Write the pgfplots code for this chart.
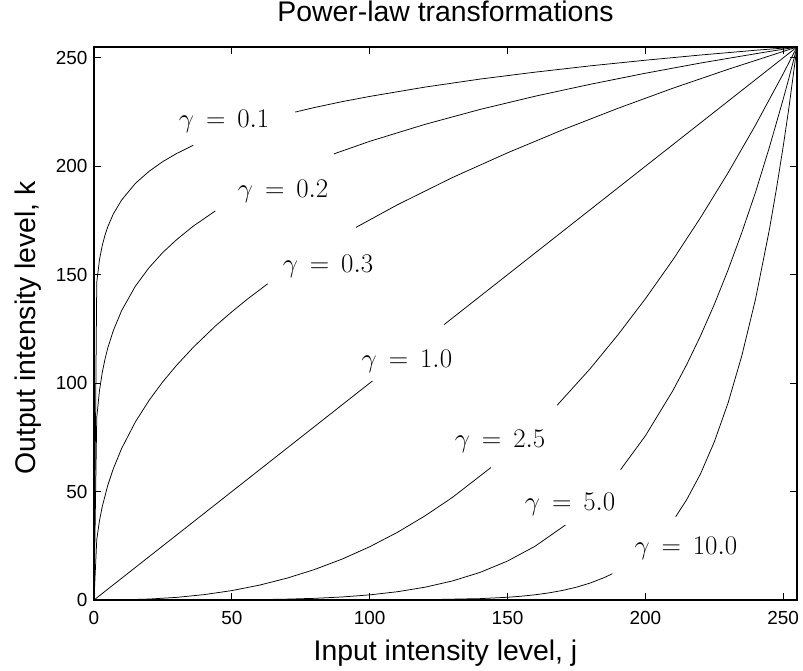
\RequirePackage{fix-cm}
\documentclass[border=0pt]{standalone}
\usepackage[no-math]{fontspec}
\setmainfont{Liberation Sans}
\usepackage{pgfplots}
\pgfplotsset{compat=1.18}
\begin{document}
\begin{tikzpicture}
\path[use as bounding box] (-94bp,-71bp) rectangle (709bp,600bp);
\begin{axis}[
  scale only axis, width=703bp, height=553bp,
  xmin=0, xmax=255, ymin=0, ymax=255,
  xtick={0,50,...,250}, ytick={0,50,...,250},
  /pgf/number format/assume math mode=true,
  tick align=inside, major tick length=7bp,
  major tick style={black, line width=0.9bp},
  axis line style={black, line width=1.4bp},
  ticklabel style={font=\fontsize{19}{22}\selectfont},
  xticklabel style={yshift=-8bp},
  yticklabel style={xshift=-3bp},
  title={Power-law transformations},
  xlabel={Input intensity level, j},
  ylabel={Output intensity level, k},
  title style={font=\fontsize{28.5}{32}\selectfont, at={(axis description cs:0.5,1.0344)}, anchor=base},
  xlabel style={font=\fontsize{28.5}{32}\selectfont, at={(axis description cs:0.5,-0.1085)}, anchor=base},
  ylabel style={font=\fontsize{28.5}{32}\selectfont, at={(axis description cs:-0.0839,0.4919)}, anchor=base, rotate=0},
  curve/.style={black, solid, line width=0.75bp, mark=none},
]
% gamma = 0.1
\addplot[curve] coordinates {(0,0) (1,146.5) (2,157.0) (3,163.5) (4,168.3) (5,172.1) (7,178.0) (10,184.4) (15,192.1) (20,197.7) (25,202.2) (30,205.9) (36,209.7)};
\addplot[curve] coordinates {(73,225.0) (80,227.1) (90,229.8) (100,232.2) (120,236.5) (140,240.2) (160,243.4) (180,246.3) (200,248.9) (220,251.3) (240,253.5) (255,255)};
% gamma = 0.2
\addplot[curve] coordinates {(0,0) (1,84.2) (2,96.7) (3,104.9) (4,111.1) (5,116.2) (7,124.2) (10,133.4) (15,144.7) (20,153.3) (25,160.3) (30,166.2) (36,172.4) (44,179.4)};
\addplot[curve] coordinates {(87,205.7) (100,211.5) (120,219.3) (140,226.2) (160,232.3) (180,237.8) (200,242.9) (220,247.6) (240,251.9) (255,255)};
% gamma = 0.4 (labelled 0.3)
\addplot[curve] coordinates {(0,0) (1,27.8) (2,36.7) (3,43.1) (5,52.9) (7,60.5) (10,69.8) (15,82.1) (20,92.1) (25,100.7) (30,108.3) (36,116.5) (44,126.3) (50,132.9) (56,139.1) (63,145.8)};
\addplot[curve] coordinates {(95,171.8) (110,182.2) (130,194.8) (150,206.2) (170,216.8) (190,226.7) (210,236.0) (230,244.7) (255,255)};
% gamma = 1.0
\addplot[curve] coordinates {(0,0) (101,101)};
\addplot[curve] coordinates {(127,127) (255,255)};
% gamma = 2.5
\addplot[curve] coordinates {(0,0) (10,0.08) (20,0.44) (30,1.21) (40,2.49) (50,4.34) (60,6.85) (70,10.07) (80,14.06) (90,18.87) (100,24.55) (110,31.16) (120,38.74) (130,47.30) (144,61.10)};
\addplot[curve] coordinates {(168,89.8) (180,106.7) (190,122.2) (200,138.9) (210,156.9) (220,176.3) (230,197.0) (240,219.1) (250,242.7) (255,255)};
% gamma = 5.0
\addplot[curve] coordinates {(0,0) (40,0.02) (50,0.07) (60,0.18) (70,0.40) (80,0.77) (90,1.40) (100,2.36) (110,3.81) (120,5.88) (130,8.78) (140,12.71) (150,17.95) (160,24.80) (171,34.58)};
\addplot[curve] coordinates {(191,60.1) (200,75.7) (210,96.6) (215,108.6) (220,121.8) (225,136.3) (230,152.2) (235,169.5) (240,188.2) (245,208.8) (250,231.0) (252,240.3) (255,255)};
% gamma = 10.0
\addplot[curve] coordinates {(0,0) (100,0.02) (120,0.14) (140,0.63) (150,1.26) (155,1.75) (160,2.41) (165,3.28) (170,4.42) (175,5.91) (180,7.83) (185,10.30) (188,12.09)};
\addplot[curve] coordinates {(211,38.4) (215,46.3) (220,58.2) (225,72.9) (230,90.9) (235,112.7) (240,139.0) (245,170.9) (247.5,189.3) (250,209.2) (252,226.4) (255,255)};
% labels
\begin{scope}[every node/.style={anchor=base, font=\fontsize{27}{30}\selectfont}]
\node at (axis cs:47.2,218.1) {$\gamma \mathrel{\,=\,} 0.1$};
\node at (axis cs:68.6,185.8) {$\gamma \mathrel{\,=\,} 0.2$};
\node at (axis cs:84.9,151.2) {$\gamma \mathrel{\,=\,} 0.3$};
\node at (axis cs:113.5,107.0) {$\gamma \mathrel{\,=\,} 1.0$};
\node at (axis cs:147.3,70.1) {$\gamma \mathrel{\,=\,} 2.5$};
\node at (axis cs:172.7,41.5) {$\gamma \mathrel{\,=\,} 5.0$};
\node at (axis cs:214.7,20.8) {$\gamma \mathrel{\,=\,} 10.0$};
\end{scope}
\end{axis}
\end{tikzpicture}
\end{document}
